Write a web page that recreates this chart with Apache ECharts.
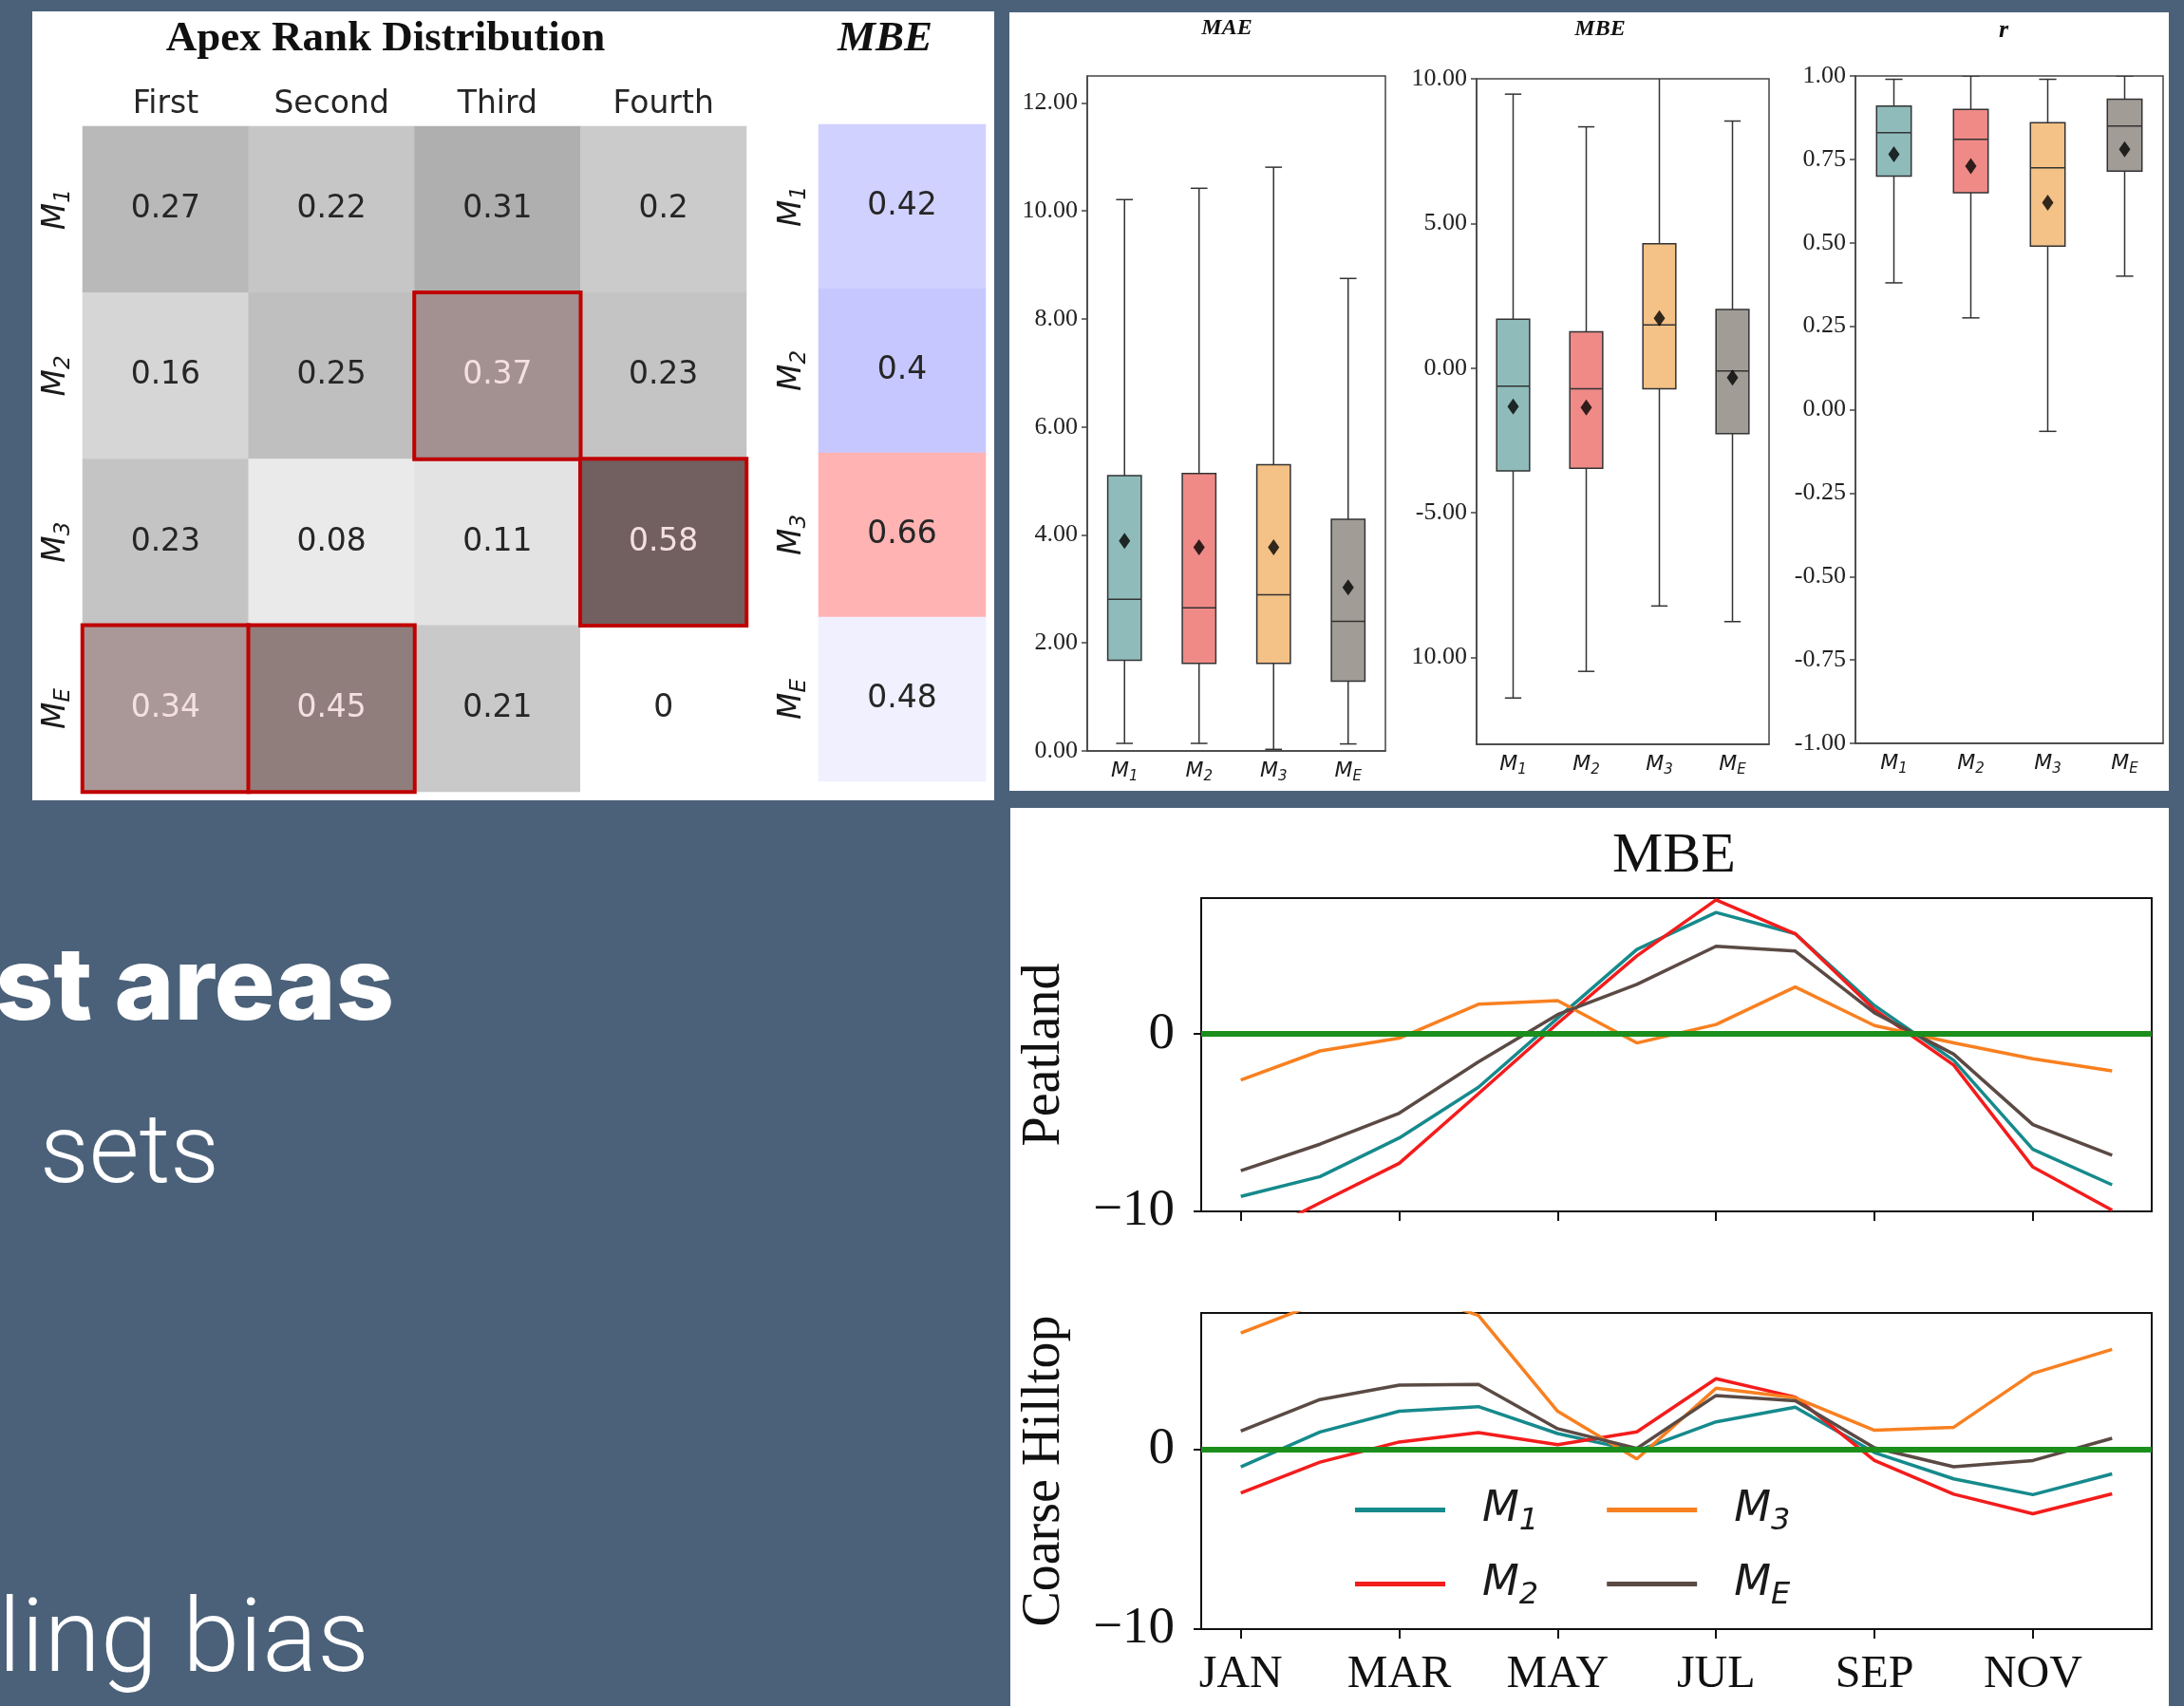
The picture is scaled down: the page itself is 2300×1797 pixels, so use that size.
<!DOCTYPE html>
<html>
<head>
<meta charset="utf-8">
<title>Apex rank distribution and MBE</title>
<script src="https://cdn.jsdelivr.net/npm/echarts@6/dist/echarts.min.js"></script>
<style>
  html, body { margin: 0; padding: 0; background: #4b6179; }
  #chart { width: 2300px; height: 1797px; }
</style>
</head>
<body>
<div id="chart"></div>
<script>
// ---- data ----
const RANKS = ['First', 'Second', 'Third', 'Fourth'];
const MODELS = ['M1', 'M2', 'M3', 'ME'];
const RANK_SHARE = [
  [0.27, 0.22, 0.31, 0.2],
  [0.16, 0.25, 0.37, 0.23],
  [0.23, 0.08, 0.11, 0.58],
  [0.34, 0.45, 0.21, 0]
];
const MBE_SCORE = [0.42, 0.4, 0.66, 0.48];

// [min, q1, median, q3, max]
const MAE_STATS = [[0.14, 1.68, 2.81, 5.10, 10.21], [0.14, 1.62, 2.65, 5.14, 10.42], [0.03, 1.62, 2.89, 5.30, 10.81], [0.13, 1.29, 2.40, 4.29, 8.75]];
const MAE_MEAN = [3.89, 3.77, 3.77, 3.03];
const MBE_STATS = [[-11.4, -3.55, -0.62, 1.69, 9.47], [-10.48, -3.46, -0.71, 1.26, 8.34], [-8.22, -0.71, 1.49, 4.30, 10.8], [-8.76, -2.26, -0.1, 2.03, 8.54]];
const MBE_MEAN = [-1.33, -1.36, 1.72, -0.33];
const R_STATS = [[0.38, 0.70, 0.83, 0.91, 0.99], [0.275, 0.65, 0.81, 0.90, 1.0], [-0.065, 0.49, 0.725, 0.86, 0.99], [0.40, 0.715, 0.85, 0.93, 1.0]];
const R_MEAN = [0.765, 0.73, 0.62, 0.78];

const MAE_TICKS = [0, 2, 4, 6, 8, 10, 12];
const MBE_TICKS = [-10, -5, 0, 5, 10];
const MBE_TICK_TEXT = ['10.00', '-5.00', '0.00', '5.00', '10.00'];
const R_TICKS = [-1, -0.75, -0.5, -0.25, 0, 0.25, 0.5, 0.75, 1];

const MONTHS = ['JAN', 'FEB', 'MAR', 'APR', 'MAY', 'JUN', 'JUL', 'AUG', 'SEP', 'OCT', 'NOV', 'DEC'];
const LINE_TICKS = [-10, 0];
const PEAT_M1 = [-9.16, -8.04, -5.86, -3.0, 0.9, 4.77, 6.86, 5.66, 1.61, -1.48, -6.5, -8.5];
const PEAT_M2 = [-11.8, -9.52, -7.29, -3.36, 0.6, 4.41, 7.57, 5.66, 1.38, -1.75, -7.5, -9.93];
const PEAT_M3 = [-2.59, -0.95, -0.23, 1.68, 1.89, -0.5, 0.54, 2.66, 0.48, -0.5, -1.39, -2.07];
const PEAT_ME = [-7.7, -6.21, -4.46, -1.57, 1.1, 2.8, 4.95, 4.68, 1.2, -1.13, -5.11, -6.84];
const HILL_M1 = [-0.97, 0.97, 2.12, 2.38, 0.88, -0.09, 1.53, 2.35, -0.18, -1.64, -2.52, -1.36];
const HILL_M2 = [-2.43, -0.71, 0.41, 0.93, 0.26, 0.97, 3.93, 2.91, -0.62, -2.49, -3.58, -2.47];
const HILL_M3 = [6.47, 8.18, 9.0, 7.45, 2.12, -0.53, 3.4, 2.87, 1.06, 1.23, 4.23, 5.56];
const HILL_ME = [1.02, 2.77, 3.58, 3.62, 1.15, 0.05, 3.0, 2.7, 0.09, -0.97, -0.62, 0.62];

// ---- styling ----
const BOX_COLORS = ['#8fbcbb', '#ef8a87', '#f4c186', '#a19c96'];
const LINE_COLORS = { M1: '#168a8c', M2: '#f41c1c', M3: '#f88020', ME: '#5b4a44' };
const SERIF = '"Liberation Serif", "Times New Roman", serif';
const SANS = '"DejaVu Sans", sans-serif';

const sub = name => `{m|M}{s|${name.slice(1)}}`;
function richSub(size, subSize, lh, subLh, extra) {
  return {
    m: Object.assign({ fontSize: size, fontStyle: 'italic', fontFamily: SANS, color: '#1a1a1a', lineHeight: lh }, extra || {}),
    s: { fontSize: subSize, fontStyle: 'italic', fontFamily: SANS, color: '#1a1a1a', lineHeight: subLh, verticalAlign: 'bottom' }
  };
}

function gray(v) {
  const g = Math.round(255 - 258 * v);
  return `rgb(${g},${g},${g})`;
}
function brown(v) {
  const d = v - 0.34;
  return `rgb(${Math.round(169 - 229 * d)},${Math.round(152 - 237 * d)},${Math.round(151 - 235 * d)})`;
}

// heatmap cells, column winners framed in red (drawn last)
const colMax = RANKS.map((_, c) => Math.max(...RANK_SHARE.map(r => r[c])));
const cells = [];
RANK_SHARE.forEach((row, r) => row.forEach((v, c) => {
  const top = v === colMax[c];
  cells.push({
    value: [c, r, v],
    top: top,
    itemStyle: top ? { color: brown(v), borderColor: '#c00000', borderWidth: 4 } : { color: gray(v) },
    label: { color: top ? '#f4e0e0' : '#262626' }
  });
}));
cells.sort((a, b) => (a.top ? 1 : 0) - (b.top ? 1 : 0));

function renderBox(params, api) {
  const i = api.value(0);
  const lo = api.coord([i, api.value(1)]);
  const q1 = api.coord([i, api.value(2)]);
  const md = api.coord([i, api.value(3)]);
  const q3 = api.coord([i, api.value(4)]);
  const hi = api.coord([i, api.value(5)]);
  const w = api.size([1, 0])[0] * 0.45;
  const x = lo[0];
  const ln = { stroke: '#333', lineWidth: 1.5 };
  return {
    type: 'group',
    children: [
      { type: 'line', shape: { x1: x, y1: hi[1], x2: x, y2: q3[1] }, style: ln },
      { type: 'line', shape: { x1: x, y1: q1[1], x2: x, y2: lo[1] }, style: ln },
      { type: 'line', shape: { x1: x - w / 4, y1: hi[1], x2: x + w / 4, y2: hi[1] }, style: ln },
      { type: 'line', shape: { x1: x - w / 4, y1: lo[1], x2: x + w / 4, y2: lo[1] }, style: ln },
      { type: 'rect', shape: { x: x - w / 2, y: q3[1], width: w, height: q1[1] - q3[1] }, style: { fill: BOX_COLORS[i], stroke: '#333', lineWidth: 1.5 } },
      { type: 'line', shape: { x1: x - w / 2, y1: md[1], x2: x + w / 2, y2: md[1] }, style: ln }
    ]
  };
}

function boxSeries(g, stats) {
  return {
    type: 'custom', xAxisIndex: g, yAxisIndex: g, clip: true, silent: true,
    renderItem: renderBox,
    encode: { x: 0, y: [1, 2, 3, 4, 5] },
    data: stats.map((s, i) => [i].concat(s))
  };
}
function meanSeries(g, means) {
  return {
    type: 'scatter', xAxisIndex: g, yAxisIndex: g, silent: true, z: 5,
    symbol: 'diamond', symbolSize: [12, 17],
    itemStyle: { color: '#000' },
    data: means.map((m, i) => [i, m])
  };
}

const axisGray = { color: '#444', width: 1.5 };
function boxX(g) {
  return {
    type: 'category', gridIndex: g, data: MODELS,
    axisLine: { onZero: false, lineStyle: axisGray },
    axisTick: { alignWithLabel: true, length: 6, lineStyle: axisGray },
    axisLabel: { margin: 8, formatter: sub, rich: richSub(22, 15, 27, 15) }
  };
}
function boxY(g, min, max, ticks, fmt) {
  return {
    type: 'value', gridIndex: g, min: min, max: max,
    axisLine: { show: true, onZero: false, lineStyle: axisGray },
    axisTick: { show: true, customValues: ticks, length: 6, lineStyle: axisGray },
    axisLabel: { customValues: ticks, formatter: fmt, margin: 10, fontSize: 26, fontFamily: SERIF, color: '#222' },
    splitLine: { show: false }
  };
}

const blk = { color: '#111', width: 2 };
const minus = v => (v < 0 ? '\u2212' + Math.abs(v) : String(v));
function lineX(g, labels) {
  return {
    type: 'category', gridIndex: g, data: MONTHS, boundaryGap: true,
    axisLine: { onZero: false, lineStyle: blk },
    axisTick: { show: true, interval: 1, alignWithLabel: true, length: 10, lineStyle: blk },
    axisLabel: { show: labels, interval: 1, margin: 24, fontSize: 48, fontFamily: SERIF, color: '#111' }
  };
}
function lineY(g, max, name) {
  return {
    type: 'value', gridIndex: g, min: -10, max: max,
    name: name, nameLocation: 'middle', nameRotate: 90, nameGap: 137,
    nameTextStyle: { fontSize: 56, fontFamily: SERIF, color: '#111' },
    axisLine: { show: true, onZero: false, lineStyle: blk },
    axisTick: { show: true, customValues: LINE_TICKS, length: 8, lineStyle: blk },
    axisLabel: { customValues: LINE_TICKS, formatter: minus, margin: 28, fontSize: 55, fontFamily: SERIF, color: '#111' },
    splitLine: { show: false }
  };
}
function lineSeries(g, name, data, withZero) {
  const s = {
    type: 'line', name: name, xAxisIndex: g, yAxisIndex: g, data: data,
    symbol: 'none', showSymbol: false, silent: true, clip: true,
    color: LINE_COLORS[name],
    lineStyle: { width: 3.5, color: LINE_COLORS[name] }
  };
  if (withZero) {
    s.markLine = {
      silent: true, symbol: 'none', label: { show: false },
      lineStyle: { color: '#1b8e1b', width: 6, type: 'solid' },
      data: [{ yAxis: 0 }]
    };
  }
  return s;
}

function txt(text, x, y, font, fill, align) {
  return {
    type: 'text', z: 10, silent: true,
    style: {
      text: text, x: x, y: y, font: font, fill: fill || '#111',
      textAlign: align || 'center', align: align || 'center',
      textVerticalAlign: 'middle', verticalAlign: 'middle'
    }
  };
}
function panel(x, y, w, h) {
  return { type: 'rect', z: -10, silent: true, shape: { x: x, y: y, width: w, height: h }, style: { fill: '#ffffff' } };
}

const legendCommon = {
  orient: 'horizontal', itemWidth: 95, itemHeight: 5, itemGap: 72, icon: 'rect',
  selectedMode: false, formatter: sub,
  textStyle: { rich: richSub(45, 32, 56, 30, { padding: [0, 0, 0, 34] }) }
};

const chart = echarts.init(document.getElementById('chart'), null, { renderer: 'canvas' });
chart.setOption({
  backgroundColor: '#4b6179',
  animation: false,
  graphic: [
    panel(34, 12, 1013, 831),
    panel(1063, 13, 1221, 820),
    panel(1064, 851, 1220, 946),
    txt('Apex Rank Distribution', 406, 41, `bold 45px ${SERIF}`),
    txt('MBE', 932, 41, `italic bold 45px ${SERIF}`),
    txt('MAE', 1292, 30, `italic bold 24px ${SERIF}`),
    txt('MBE', 1685, 31, `italic bold 24px ${SERIF}`),
    txt('r', 2110, 32, `italic bold 26px ${SERIF}`),
    txt('MBE', 1763, 902, `60px ${SERIF}`),
    txt('st areas', 415, 1042, '800 107px Inter, "Noto Sans", sans-serif', '#ffffff', 'right'),
    txt('sets', 231, 1219, '300 102px Roboto, Inter, sans-serif', '#ffffff', 'right'),
    txt('ling bias', 389, 1733, '300 108px Roboto, Inter, sans-serif', '#ffffff', 'right')
  ],
  grid: [
    { left: 87, top: 133, width: 699, height: 701 },
    { left: 862, top: 131, width: 176, height: 692 },
    { left: 1145, top: 80, width: 314, height: 711, show: true, borderColor: '#444', borderWidth: 1.5 },
    { left: 1555, top: 83, width: 308, height: 701, show: true, borderColor: '#444', borderWidth: 1.5 },
    { left: 1954, top: 80, width: 324, height: 703, show: true, borderColor: '#444', borderWidth: 1.5 },
    { left: 1265, top: 946, width: 1001, height: 330, show: true, borderColor: '#111', borderWidth: 2 },
    { left: 1265, top: 1383, width: 1001, height: 333, show: true, borderColor: '#111', borderWidth: 2 }
  ],
  xAxis: [
    {
      type: 'category', gridIndex: 0, data: RANKS, position: 'top',
      axisLine: { show: false }, axisTick: { show: false },
      axisLabel: { margin: 6, fontSize: 33, fontFamily: SANS, color: '#262626' }
    },
    { type: 'category', gridIndex: 1, data: ['MBE'], show: false },
    boxX(2), boxX(3), boxX(4),
    lineX(5, false), lineX(6, true)
  ],
  yAxis: [
    {
      type: 'category', gridIndex: 0, data: MODELS, inverse: true,
      axisLine: { show: false }, axisTick: { show: false },
      axisLabel: { rotate: 90, margin: 8, formatter: sub, rich: richSub(33, 23, 40, 21) }
    },
    {
      type: 'category', gridIndex: 1, data: MODELS, inverse: true,
      axisLine: { show: false }, axisTick: { show: false },
      axisLabel: { rotate: 90, margin: 8, formatter: sub, rich: richSub(33, 23, 40, 21) }
    },
    boxY(2, 0, 12.5, MAE_TICKS, v => v.toFixed(2)),
    boxY(3, -13, 10, MBE_TICKS, v => MBE_TICK_TEXT[MBE_TICKS.indexOf(v)]),
    boxY(4, -1, 1, R_TICKS, v => v.toFixed(2)),
    lineY(5, 7.67, 'Peatland'),
    lineY(6, 7.59, 'Coarse Hilltop')
  ],
  visualMap: [
    { type: 'continuous', show: false, seriesIndex: 0, dimension: 2, min: 0, max: 1, inRange: { opacity: [1, 1] } },
    { type: 'continuous', show: false, seriesIndex: 1, dimension: 2, min: 0.01, max: 1.01, inRange: { color: ['#0000ff', '#ffffff', '#ff0000'] } }
  ],
  legend: [
    Object.assign({ data: ['M1', 'M3'], left: 1422, top: 1563 }, legendCommon),
    Object.assign({ data: ['M2', 'ME'], left: 1422, top: 1641 }, legendCommon)
  ],
  series: [
    {
      type: 'heatmap', xAxisIndex: 0, yAxisIndex: 0, silent: true, data: cells,
      label: { show: true, formatter: p => String(p.value[2]), fontSize: 33, fontFamily: SANS }
    },
    {
      type: 'heatmap', xAxisIndex: 1, yAxisIndex: 1, silent: true,
      data: MBE_SCORE.map((v, r) => [0, r, v]),
      label: { show: true, formatter: p => String(p.value[2]), fontSize: 33, fontFamily: SANS, color: '#262626' }
    },
    boxSeries(2, MAE_STATS), boxSeries(3, MBE_STATS), boxSeries(4, R_STATS),
    meanSeries(2, MAE_MEAN), meanSeries(3, MBE_MEAN), meanSeries(4, R_MEAN),
    lineSeries(5, 'M1', PEAT_M1, true), lineSeries(5, 'M2', PEAT_M2), lineSeries(5, 'M3', PEAT_M3), lineSeries(5, 'ME', PEAT_ME),
    lineSeries(6, 'M1', HILL_M1, true), lineSeries(6, 'M2', HILL_M2), lineSeries(6, 'M3', HILL_M3), lineSeries(6, 'ME', HILL_ME)
  ]
});
</script>
</body>
</html>
